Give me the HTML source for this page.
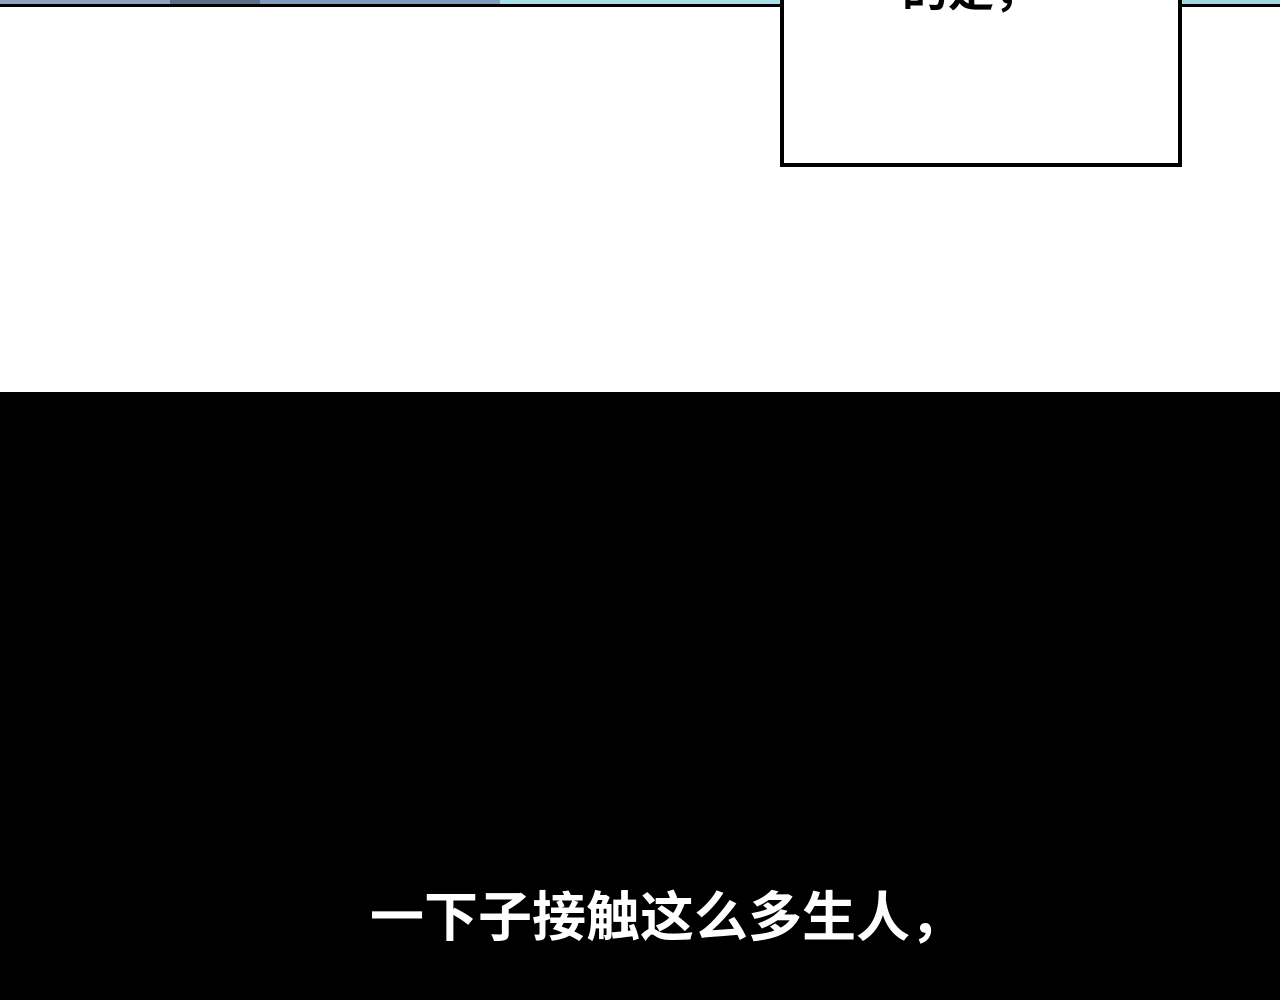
<!DOCTYPE html>
<html><head><meta charset="utf-8"><style>
body{margin:0;width:1280px;height:1000px;position:relative;overflow:hidden;background:#fff;font-family:"Liberation Sans","Noto Sans CJK SC",sans-serif}
.strip{position:absolute;left:0;top:0;width:1280px;height:4px;background:linear-gradient(90deg,#8ea3bf 0 170px,#5a6e88 170px 260px,#7f9bbd 260px 500px,#a8dfe6 500px 780px,#fff 780px 1182px,#9fd8e0 1182px)}
.line{position:absolute;left:0;top:4px;width:1280px;height:3px;background:#000}
.box{position:absolute;left:780px;top:-10px;width:394px;height:169px;border:4px solid #000;background:#fff}
.bt{position:absolute;left:770px;width:402px;top:-46px;text-align:center;font-size:46px;font-weight:bold;color:#000}
.black{position:absolute;left:0;top:392px;width:1280px;height:608px;background:#000}
.cap{position:absolute;left:370px;top:873px;font-size:54px;font-weight:bold;color:#fff;letter-spacing:0px;white-space:nowrap}
</style></head><body>
<div class="strip"></div><div class="line"></div>
<div class="box"></div>
<div class="bt">的是，</div>
<div class="black"></div>
<div class="cap">一下子接触这么多生人，</div>
</body></html>
